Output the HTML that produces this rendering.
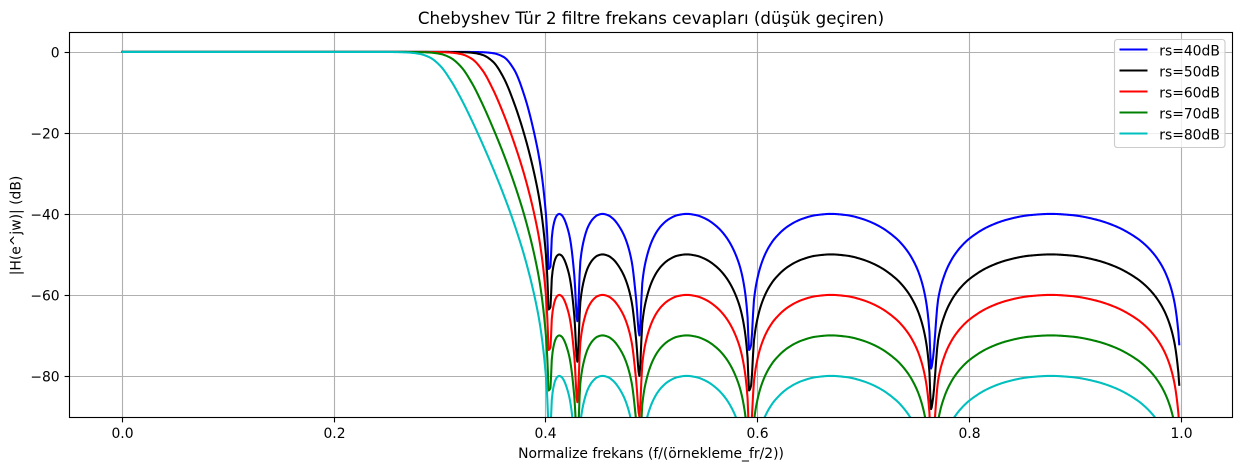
<!DOCTYPE html>
<html lang="tr">
<head>
<meta charset="utf-8">
<title>Chebyshev Tür 2 filtre frekans cevapları</title>
<style>
html,body{margin:0;padding:0;background:#fff;width:1241px;height:470px;overflow:hidden}
svg{display:block}
text{font-family:"DejaVu Sans","Liberation Sans",sans-serif;fill:#000}
</style>
</head>
<body>
<svg id="chart" xmlns="http://www.w3.org/2000/svg" width="1241" height="470" viewBox="0 0 1241 470">
  <defs><clipPath id="plot-clip"><rect x="69.5" y="32.5" width="1163" height="385"/></clipPath></defs>
  <rect x="0" y="0" width="1241" height="470" fill="#fff"/>
  <g id="grid"></g>
  <g id="series" clip-path="url(#plot-clip)"></g>
  <rect x="69.5" y="32.5" width="1163" height="385" fill="none" stroke="#000" stroke-width="1.11"/>
  <g id="ticks"></g>
  <text x="651" y="24" text-anchor="middle" font-size="16.67">Chebyshev Tür 2 filtre frekans cevapları (düşük geçiren)</text>
  <text x="651" y="458" text-anchor="middle" font-size="13.89">Normalize frekans (f/(örnekleme_fr/2))</text>
  <text x="0" y="0" transform="translate(20.5,225.5) rotate(-90)" text-anchor="middle" font-size="13.89">|H(e^jw)| (dB)</text>
  <g>
    <rect x="1114.5" y="39.5" width="110.5" height="108" rx="2.8" fill="#fff" fill-opacity="0.8" stroke="#ccc" stroke-width="1.11"/>
    <g><line x1="1119.5" x2="1147.5" y1="49.5" y2="49.5" stroke="#0000ff" stroke-width="2.08"/><text x="1159.3" y="55.5" font-size="13.89">rs=40dB</text></g>
    <g><line x1="1119.5" x2="1147.5" y1="70.5" y2="70.5" stroke="#000000" stroke-width="2.08"/><text x="1159.3" y="76.5" font-size="13.89">rs=50dB</text></g>
    <g><line x1="1119.5" x2="1147.5" y1="91.5" y2="91.5" stroke="#ff0000" stroke-width="2.08"/><text x="1159.3" y="97.5" font-size="13.89">rs=60dB</text></g>
    <g><line x1="1119.5" x2="1147.5" y1="112.5" y2="112.5" stroke="#008000" stroke-width="2.08"/><text x="1159.3" y="118.5" font-size="13.89">rs=70dB</text></g>
    <g><line x1="1119.5" x2="1147.5" y1="133.5" y2="133.5" stroke="#00bfbf" stroke-width="2.08"/><text x="1159.3" y="139.5" font-size="13.89">rs=80dB</text></g>
  </g>
</svg>
<script>
const xTickValues = [0, 0.2, 0.4, 0.6, 0.8, 1.0];
const xTickLabels = ["0.0", "0.2", "0.4", "0.6", "0.8", "1.0"];
const yTickValues = [0, -20, -40, -60, -80];
const yTickLabels = ["0", "\u221220", "\u221240", "\u221260", "\u221280"];

const frequency = [
0,.1,.2,.24,.25,.26,.27,.28,.29,.30,.31,.32,.33,.34,.35,.36,.37,.38,.39,.395,.40,
.4008,.4019,.40234,.4043,.40554,.4070,.40869,.4106,.4126,.4149,
.41727,.4198,.42273,.42685,.42969,.43253,.43624,.4401,.44438,.4488,
.45349,.4584,.46368,.4690,.47495,.48102,.48526,.48828,.49099,.49419,
.50129,.50861,.5164,.5244,.53299,.5418,.55119,.56091,.57105,.58165,
.58676,.59046,.5918,.59375,.5965,.60035,.60425,.60819,.6122,.61626,
.62874,.64177,.65529,.66932,.68387,.69896,.71456,.7307,.73618,.74173,
.74733,.75301,.75873,.76218,.76367,.76563,.77033,.7762,.78212,.7881,
.79412,.80022,.81878,.83776,.85714,.87686,.89688,.91717,.93769,.95836,
.9653,.97222,.97916,.9861,.99305,.99722,.99805];

const rs40 = [
0,0,0,0,0,0,0,0,0,0,0,-.01,-.02,-.08,-.31,-1.24,-4.37,-11.07,-21.3,-28.36,-40,
-43.01,-49.32,-53.6,-53,-46.02,-43.01,-41.25,-40.3,-40,-40.3,
-41.25,-43.01,-46.02,-55.21,-66.5,-51.74,-46.02,-43.01,-41.25,-40.3,
-40,-40.3,-41.25,-43.01,-46.02,-51.74,-61.19,-70,-57.13,-51.74,
-46.02,-43.01,-41.25,-40.3,-40,-40.3,-41.25,-43.01,-46.02,-51.74,
-57.13,-65.6,-73.6,-72.4,-61.19,-55.21,-51.74,-49.32,-47.48,-46.02,
-43.01,-41.25,-40.3,-40,-40.3,-41.25,-43.01,-46.02,-47.48,-49.32,
-51.74,-55.21,-61.19,-69.15,-78.2,-75.4,-61.19,-55.21,-51.74,-49.32,
-47.48,-46.02,-43.01,-41.25,-40.3,-40,-40.3,-41.25,-43.01,-46.02,
-47.48,-49.32,-51.74,-55.21,-61.19,-69.15,-72.2];

const rs50 = [
0,0,0,0,0,0,0,0,0,-.01,-.02,-.06,-.2,-.73,-2.41,-6.34,-12.65,-20.76,-31.25,-38.36,-50,
-53.01,-59.32,-63.6,-63,-56.02,-53.01,-51.25,-50.3,-50,-50.3,
-51.25,-53.01,-56.02,-65.21,-76.5,-61.74,-56.02,-53.01,-51.25,-50.3,
-50,-50.3,-51.25,-53.01,-56.02,-61.74,-71.19,-80,-67.13,-61.74,
-56.02,-53.01,-51.25,-50.3,-50,-50.3,-51.25,-53.01,-56.02,-61.74,
-67.13,-75.6,-83.6,-82.4,-71.19,-65.21,-61.74,-59.32,-57.48,-56.02,
-53.01,-51.25,-50.3,-50,-50.3,-51.25,-53.01,-56.02,-57.48,-59.32,
-61.74,-65.21,-71.19,-79.15,-88.2,-85.4,-71.19,-65.21,-61.74,-59.32,
-57.48,-56.02,-53.01,-51.25,-50.3,-50,-50.3,-51.25,-53.01,-56.02,
-57.48,-59.32,-61.74,-65.21,-71.19,-79.15,-82.2];

const rs60 = [
0,0,0,0,0,0,0,-.01,-.02,-.05,-.17,-.55,-1.7,-4.5,-9.25,-15.33,-22.43,-30.72,-41.25,-48.36,-60,
-63.01,-69.32,-73.6,-73,-66.02,-63.01,-61.25,-60.3,-60,-60.3,
-61.25,-63.01,-66.02,-75.21,-86.5,-71.74,-66.02,-63.01,-61.25,-60.3,
-60,-60.3,-61.25,-63.01,-66.02,-71.74,-81.19,-90,-77.13,-71.74,
-66.02,-63.01,-61.25,-60.3,-60,-60.3,-61.25,-63.01,-66.02,-71.74,
-77.13,-85.6,-93.6,-92.4,-81.19,-75.21,-71.74,-69.32,-67.48,-66.02,
-63.01,-61.25,-60.3,-60,-60.3,-61.25,-63.01,-66.02,-67.48,-69.32,
-71.74,-75.21,-81.19,-89.15,-98.2,-95.4,-81.19,-75.21,-71.74,-69.32,
-67.48,-66.02,-63.01,-61.25,-60.3,-60,-60.3,-61.25,-63.01,-66.02,
-67.48,-69.32,-71.74,-75.21,-81.19,-89.15,-92.2];

const rs70 = [
0,0,0,0,0,-.01,-.02,-.05,-.15,-.48,-1.46,-3.71,-7.63,-12.83,-18.76,-25.21,-32.4,-40.72,-51.25,-58.36,-70,
-73.01,-79.32,-83.6,-83,-76.02,-73.01,-71.25,-70.3,-70,-70.3,
-71.25,-73.01,-76.02,-85.21,-96.5,-81.74,-76.02,-73.01,-71.25,-70.3,
-70,-70.3,-71.25,-73.01,-76.02,-81.74,-91.19,-100,-87.13,-81.74,
-76.02,-73.01,-71.25,-70.3,-70,-70.3,-71.25,-73.01,-76.02,-81.74,
-87.13,-95.6,-103.6,-102.4,-91.19,-85.21,-81.74,-79.32,-77.48,-76.02,
-73.01,-71.25,-70.3,-70,-70.3,-71.25,-73.01,-76.02,-77.48,-79.32,
-81.74,-85.21,-91.19,-99.15,-108.2,-105.4,-91.19,-85.21,-81.74,-79.32,
-77.48,-76.02,-73.01,-71.25,-70.3,-70,-70.3,-71.25,-73.01,-76.02,
-77.48,-79.32,-81.74,-85.21,-91.19,-99.15,-102.2];

const rs80 = [
0,0,0,0,-.01,-.05,-.15,-.45,-1.32,-3.37,-6.97,-11.6,-16.89,-22.62,-28.7,-35.2,-42.4,-50.72,-61.25,-68.36,-80,
-83.01,-89.32,-93.6,-93,-86.02,-83.01,-81.25,-80.3,-80,-80.3,
-81.25,-83.01,-86.02,-95.21,-106.5,-91.74,-86.02,-83.01,-81.25,-80.3,
-80,-80.3,-81.25,-83.01,-86.02,-91.74,-101.19,-110,-97.13,-91.74,
-86.02,-83.01,-81.25,-80.3,-80,-80.3,-81.25,-83.01,-86.02,-91.74,
-97.13,-105.6,-113.6,-112.4,-101.19,-95.21,-91.74,-89.32,-87.48,-86.02,
-83.01,-81.25,-80.3,-80,-80.3,-81.25,-83.01,-86.02,-87.48,-89.32,
-91.74,-95.21,-101.19,-109.15,-118.2,-115.4,-101.19,-95.21,-91.74,-89.32,
-87.48,-86.02,-83.01,-81.25,-80.3,-80,-80.3,-81.25,-83.01,-86.02,
-87.48,-89.32,-91.74,-95.21,-101.19,-109.15,-112.2];

const seriesValues = [rs40, rs50, rs60, rs70, rs80];
const seriesNames = ["rs-40db", "rs-50db", "rs-60db", "rs-70db", "rs-80db"];
const seriesColors = ["#0000ff", "#000000", "#ff0000", "#008000", "#00bfbf"];

const NS = "http://www.w3.org/2000/svg";
const DRAW_FLOOR = -92;
function xScale(f) { return 122.3 + 1059 * f; }
function yScale(v) { return 51.9 - 4.05 * v; }
function snap(p) { return Math.round(p) + 0.5; }
function make(tag, attrs, parent) {
  const el = document.createElementNS(NS, tag);
  for (const k in attrs) el.setAttribute(k, attrs[k]);
  parent.appendChild(el);
  return el;
}
function tangents(xs, ys) {
  const n = xs.length, d = [], m = new Array(n).fill(0);
  for (let i = 0; i < n - 1; i++) d.push((ys[i + 1] - ys[i]) / (xs[i + 1] - xs[i]));
  m[0] = d[0];
  m[n - 1] = d[n - 2];
  for (let i = 1; i < n - 1; i++) {
    if (d[i - 1] * d[i] > 0) {
      const h0 = xs[i] - xs[i - 1], h1 = xs[i + 1] - xs[i];
      const w0 = 2 * h1 + h0, w1 = h1 + 2 * h0;
      m[i] = (w0 + w1) / (w0 / d[i - 1] + w1 / d[i]);
    }
  }
  return m;
}
function curvePath(xs, ys) {
  const m = tangents(xs, ys);
  let out = "", penDown = false, prevF = xs[0], prevV = ys[0];
  function visit(f, v) {
    if (v >= DRAW_FLOOR) {
      if (!penDown) {
        if (v > DRAW_FLOOR && prevV < DRAW_FLOOR) {
          const c = prevF + (f - prevF) * (DRAW_FLOOR - prevV) / (v - prevV);
          out += "M" + xScale(c).toFixed(2) + " " + yScale(DRAW_FLOOR).toFixed(2);
          out += "L" + xScale(f).toFixed(2) + " " + yScale(v).toFixed(2);
        } else {
          out += "M" + xScale(f).toFixed(2) + " " + yScale(v).toFixed(2);
        }
        penDown = true;
      } else {
        out += "L" + xScale(f).toFixed(2) + " " + yScale(v).toFixed(2);
      }
    } else if (penDown) {
      const c = prevF + (f - prevF) * (DRAW_FLOOR - prevV) / (v - prevV);
      out += "L" + xScale(c).toFixed(2) + " " + yScale(DRAW_FLOOR).toFixed(2);
      penDown = false;
    }
    prevF = f;
    prevV = v;
  }
  visit(xs[0], ys[0]);
  for (let i = 0; i < xs.length - 1; i++) {
    const h = xs[i + 1] - xs[i];
    const steps = Math.max(1, Math.ceil(xScale(h) - xScale(0)));
    for (let j = 1; j <= steps; j++) {
      const t = j / steps, t2 = t * t, t3 = t2 * t;
      const v = (2 * t3 - 3 * t2 + 1) * ys[i] + (t3 - 2 * t2 + t) * h * m[i] +
                (-2 * t3 + 3 * t2) * ys[i + 1] + (t3 - t2) * h * m[i + 1];
      visit(xs[i] + h * t, v);
    }
  }
  return out;
}
const gridG = document.getElementById("grid");
const ticksG = document.getElementById("ticks");
const seriesG = document.getElementById("series");

xTickValues.forEach(function (t, i) {
  const px = Math.floor(xScale(t)) + 0.5;
  const g = make("line", {x1: px, x2: px, y1: 32.5, y2: 417.5, stroke: "#b0b0b0", "stroke-width": 1.11}, gridG);
  
  
  const m = make("line", {x1: px, x2: px, y1: 417.5, y2: 422.4, stroke: "#000", "stroke-width": 1.11}, ticksG);
  
  
  const l = make("text", {x: px, y: 438, "text-anchor": "middle", "font-size": 13.89}, ticksG);
  
  
  l.textContent = xTickLabels[i];
});

yTickValues.forEach(function (t, i) {
  const py = snap(yScale(t));
  const g = make("line", {x1: 69.5, x2: 1232.5, y1: py, y2: py, stroke: "#b0b0b0", "stroke-width": 1.11}, gridG);
  
  
  const m = make("line", {x1: 64.6, x2: 69.5, y1: py, y2: py, stroke: "#000", "stroke-width": 1.11}, ticksG);
  
  
  const l = make("text", {x: 59.6, y: py + 5, "text-anchor": "end", "font-size": 13.89}, ticksG);
  
  
  l.textContent = yTickLabels[i];
});

seriesValues.forEach(function (vals, s) {
  const line = make("path", {d: curvePath(frequency, vals), fill: "none", stroke: seriesColors[s], "stroke-width": 2.08, "stroke-linejoin": "round", "stroke-linecap": "square"}, seriesG);
  
  
});
</script>
</body>
</html>
